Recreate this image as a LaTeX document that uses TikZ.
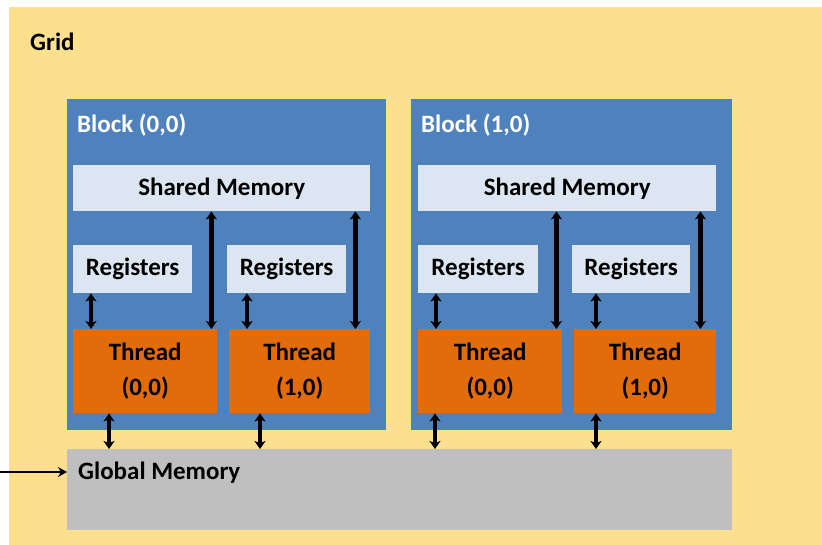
\documentclass[tikz,border=0pt]{standalone}
\usepackage{fontspec}
\setmainfont{Carlito}
\usepackage{xcolor}
\usetikzlibrary{arrows.meta, positioning}
\definecolor{gridcolor}{RGB}{253,224,142}
\definecolor{blockcolor}{RGB}{79,129,189}
\definecolor{memcolor}{RGB}{220,230,242}
\definecolor{threadcolor}{RGB}{226,107,10}
\definecolor{globalcolor}{RGB}{191,191,191}

\begin{document}
\begin{tikzpicture}[
    x=1pt, y=-1pt,
    every node/.style={font=\fontsize{25}{35}\selectfont\bfseries, inner sep=0pt},
    box/.style={anchor=north west},
    memory/.style={box, fill=memcolor},
    thread/.style={box, fill=threadcolor, align=center},
    link/.style={{Stealth[length=8pt, width=11pt, inset=2pt]}-{Stealth[length=8pt, width=11pt, inset=2pt]}, line width=4.4pt}
]
    \useasboundingbox (0,0) rectangle (822,545);
    % Grid
    \fill[gridcolor] (9,7) rectangle (822,545);
    \node[anchor=west] (gridlbl) at (30,42) {Grid};

    % Blocks
    \node[box, fill=blockcolor, minimum width=319pt, minimum height=331pt] (blkA) at (67,99) {};
    \node[box, fill=blockcolor, minimum width=321pt, minimum height=331pt] (blkB) at (411,99) {};
    \node[anchor=west, text=white] (blkAlbl) at (77,125) {Block (0,0)};
    \node[anchor=west, text=white] (blkBlbl) at (421,125) {Block (1,0)};

    % Shared memory
    \node[memory, minimum width=297pt, minimum height=46pt] (shmA) at (73,165) {Shared Memory};
    \node[memory, minimum width=298pt, minimum height=46pt] (shmB) at (418,165) {Shared Memory};

    % Registers
    \node[memory, minimum width=119pt, minimum height=48pt] (regA1) at (73,245) {Registers};
    \node[memory, minimum width=119pt, minimum height=48pt] (regA2) at (227,245) {Registers};
    \node[memory, minimum width=120pt, minimum height=48pt] (regB1) at (418,245) {Registers};
    \node[memory, minimum width=118pt, minimum height=48pt] (regB2) at (572,245) {Registers};

    % Threads
    \node[thread, minimum width=144pt, minimum height=84pt] (thrA1) at (73,329) {Thread\\(0,0)};
    \node[thread, minimum width=141pt, minimum height=84pt] (thrA2) at (229,329) {Thread\\(1,0)};
    \node[thread, minimum width=144pt, minimum height=84pt] (thrB1) at (418,329) {Thread\\(0,0)};
    \node[thread, minimum width=142pt, minimum height=84pt] (thrB2) at (574,329) {Thread\\(1,0)};

    % Global memory
    \node[box, fill=globalcolor, minimum width=665pt, minimum height=81pt] (gmem) at (67,449) {};
    \node[anchor=west] (gmemlbl) at (78,473) {Global Memory};
    \coordinate (gin) at (0,472);

    % Register <-> thread
    \draw[link] ([xshift=18pt]regA1.south west) -- ([xshift=18pt]thrA1.north west);
    \draw[link] ([xshift=20pt]regA2.south west) -- ([xshift=18pt]thrA2.north west);
    \draw[link] ([xshift=18pt]regB1.south west) -- ([xshift=18pt]thrB1.north west);
    \draw[link] ([xshift=24pt]regB2.south west) -- ([xshift=22pt]thrB2.north west);

    % Shared memory <-> thread
    \draw[link] ([xshift=-6pt]thrA1.north east) -- ([xshift=-6pt]thrA1.north east |- shmA.south);
    \draw[link] ([xshift=-15pt]thrA2.north east) -- ([xshift=-15pt]thrA2.north east |- shmA.south);
    \draw[link] ([xshift=-6pt]thrB1.north east) -- ([xshift=-6pt]thrB1.north east |- shmB.south);
    \draw[link] ([xshift=-16pt]thrB2.north east) -- ([xshift=-16pt]thrB2.north east |- shmB.south);

    % Thread <-> global memory
    \draw[link] ([xshift=36pt]thrA1.south west) -- ([xshift=36pt]thrA1.south west |- gmem.north);
    \draw[link] ([xshift=31pt]thrA2.south west) -- ([xshift=31pt]thrA2.south west |- gmem.north);
    \draw[link] ([xshift=17pt]thrB1.south west) -- ([xshift=17pt]thrB1.south west |- gmem.north);
    \draw[link] ([xshift=22pt]thrB2.south west) -- ([xshift=22pt]thrB2.south west |- gmem.north);

    % Host access
    \draw[-{Stealth[length=9pt, width=10pt]}, line width=2.4pt] (gin) -- (gin -| gmem.west);
\end{tikzpicture}
\end{document}
